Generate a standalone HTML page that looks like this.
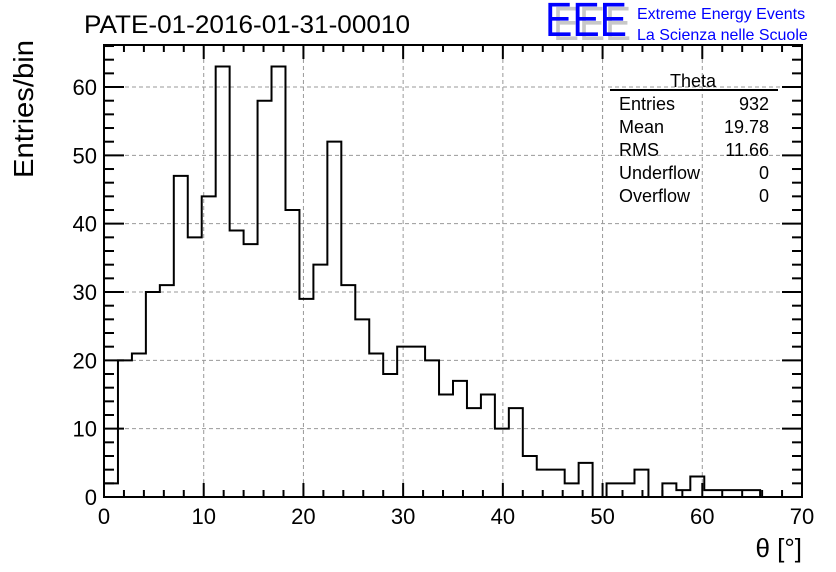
<!DOCTYPE html>
<html><head><meta charset="utf-8"><style>
body{margin:0;background:#fff}
svg{display:block;font-family:"Liberation Sans",sans-serif}
</style></head><body>
<svg id="chart" width="836" height="572" viewBox="0 0 836 572">
<rect width="836" height="572" fill="#fff"/>
<text x="84" y="33" font-size="25" textLength="326" lengthAdjust="spacingAndGlyphs">PATE-01-2016-01-31-00010</text>
<g>
<text x="553" y="40" font-size="48" fill="#c8c8c8" textLength="78" lengthAdjust="spacingAndGlyphs">EEE</text>
<text x="545" y="36" font-size="48" fill="#0000ff" textLength="82" lengthAdjust="spacingAndGlyphs">EEE</text>
<text x="637" y="19" font-size="16" fill="#0000ff">Extreme Energy Events</text>
<text x="637" y="40" font-size="16" fill="#0000ff">La Scienza nelle Scuole</text>
</g>
<g id="grid"></g>
<g id="axes"></g>
<path id="hist" fill="none" stroke="#000" stroke-width="2"/>
<rect x="104" y="45" width="698" height="452" fill="none" stroke="#000" stroke-width="2"/>
<g font-size="18">
<text x="693" y="87" text-anchor="middle">Theta</text>
<line x1="610" y1="90" x2="778" y2="90" stroke="#000" stroke-width="2"/>
<text x="619" y="110">Entries</text><text x="769" y="110" text-anchor="end">932</text>
<text x="619" y="133">Mean</text><text x="769" y="133" text-anchor="end">19.78</text>
<text x="619" y="156">RMS</text><text x="769" y="156" text-anchor="end">11.66</text>
<text x="619" y="179">Underflow</text><text x="769" y="179" text-anchor="end">0</text>
<text x="619" y="202">Overflow</text><text x="769" y="202" text-anchor="end">0</text>
</g>
<text transform="translate(33,109) rotate(-90)" text-anchor="middle" font-size="28" textLength="138" lengthAdjust="spacingAndGlyphs">Entries/bin</text>
<text x="802" y="557" text-anchor="end" font-size="26">θ [°]</text>
</svg>
<script>
const binLow = 0;
const binWidth = 1.4;
const counts = [2,20,21,30,31,47,38,44,63,39,37,58,63,42,29,34,52,31,26,21,18,22,22,20,15,17,13,15,10,13,6,4,4,2,5,0,2,2,4,0,2,1,3,1,1,1,1,0,0,0];
const xTicks = [0,10,20,30,40,50,60,70];
const yTicks = [0,10,20,30,40,50,60];
const X0=104,X1=802,Y0=497,Y1=45,XMAX=70,YMAX=66.15;
const sx=v=>X0+(v/XMAX)*(X1-X0);
const sy=v=>Y0-(v/YMAX)*(Y0-Y1);
const NS='http://www.w3.org/2000/svg';
function mk(tag,attrs,parent){const e=document.createElementNS(NS,tag);for(const k in attrs)e.setAttribute(k,attrs[k]);parent.appendChild(e);return e;}
const grid=document.getElementById('grid'), axes=document.getElementById('axes');
xTicks.forEach(t=>{
  if(t>0&&t<XMAX){const l=mk('line',{x1:sx(t),x2:sx(t),y1:Y1,y2:Y0,stroke:'#999','stroke-dasharray':'4,3','stroke-width':1},grid);
  
  }
  const tx=mk('text',{x:sx(t),y:524,'text-anchor':'middle','font-size':22},axes);
  
  
  tx.textContent=t;
});
yTicks.forEach(t=>{
  if(t>0){const l=mk('line',{x1:X0,x2:X1,y1:sy(t),y2:sy(t),stroke:'#999','stroke-dasharray':'4,3','stroke-width':1},grid);
  
  }
  const tx=mk('text',{x:97,y:sy(t)+8,'text-anchor':'end','font-size':22},axes);
  
  
  tx.textContent=t;
});
for(let v=0;v<=XMAX;v+=2){const major=v%10===0;const len=major?14:7;
  mk('line',{x1:sx(v),x2:sx(v),y1:Y0,y2:Y0-len,stroke:'#000','stroke-width':2},axes);
  mk('line',{x1:sx(v),x2:sx(v),y1:Y1,y2:Y1+len,stroke:'#000','stroke-width':2},axes);}
for(let v=0;v<=YMAX;v+=2){const major=v%10===0;const len=major?20:10;
  mk('line',{x1:X0,x2:X0+len,y1:sy(v),y2:sy(v),stroke:'#000','stroke-width':2},axes);
  mk('line',{x1:X1,x2:X1-len,y1:sy(v),y2:sy(v),stroke:'#000','stroke-width':2},axes);}
let d='M'+sx(binLow)+','+sy(0);
counts.forEach((c,i)=>{const a=sx(binLow+i*binWidth),b=sx(binLow+(i+1)*binWidth);d+=' L'+a+','+sy(c)+' L'+b+','+sy(c);});
document.getElementById('hist').setAttribute('d',d);
</script>
</body></html>
